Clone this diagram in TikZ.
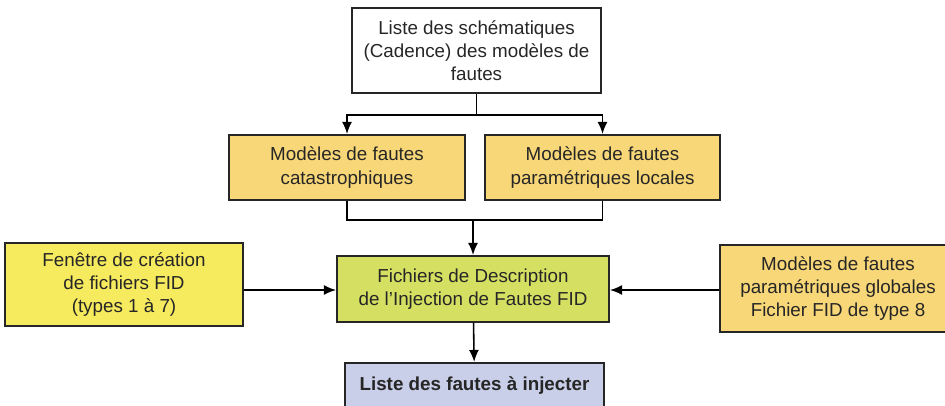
\documentclass[tikz,border=0pt]{standalone}
\usepackage{fontspec}
\setmainfont{Liberation Sans}
\usetikzlibrary{arrows.meta}
\definecolor{orangebox}{HTML}{F8D778}
\definecolor{yellowbox}{HTML}{F6EA5E}
\definecolor{greenbox}{HTML}{D5E062}
\definecolor{bluebox}{HTML}{C9CFE8}
\begin{document}
\begin{tikzpicture}[x=0.02cm,y=-0.02cm,
  >={Latex[length=2.4mm,width=2mm]},
  line width=0.9pt,
  box/.style={draw=black!85, line width=1.2pt, align=center, inner sep=0pt,
    font=\fontsize{10.7}{13.2}\selectfont, text=black!85}]
\useasboundingbox (0,0) rectangle (945,405);
\node[box, minimum width=4.98cm, minimum height=1.7cm] (schem) at (476.5,50.5) {Liste des schématiques\\(Cadence) des modèles de\\fautes};
\node[box, fill=orangebox, minimum width=4.72cm, minimum height=1.3cm] (cata) at (347,167.5) {Modèles de fautes\\catastrophiques};
\node[box, fill=orangebox, minimum width=4.7cm, minimum height=1.3cm] (loc) at (602.5,167.5) {Modèles de fautes\\paramétriques locales};
\node[box, fill=greenbox, minimum width=5.44cm, minimum height=1.32cm] (fid) at (473,289) {Fichiers de Description\\de l’Injection de Fautes FID};
\node[box, fill=yellowbox, minimum width=4.76cm, minimum height=1.66cm] (fen) at (124,284.5) {Fenêtre de création\\de fichiers FID\\(types 1 à 7)};
\node[box, fill=orangebox, minimum width=4.72cm, minimum height=1.74cm] (glob) at (838,288.5) {Modèles de fautes\\paramétriques globales\\Fichier FID de type 8};
\node[box, fill=bluebox, minimum width=5.18cm, minimum height=0.92cm, font=\fontsize{10.7}{13.2}\selectfont\bfseries] (liste) at (474.5,386) {Liste des fautes à injecter};
% top split
\coordinate (s1) at (476.5,115);
\draw (schem) -- (s1);
\draw[->] (s1) -| (cata);
\draw[->] (s1) -| (loc);
% merge
\coordinate (m1) at (473,220);
\draw (cata) |- (m1) -| (loc);
\draw[->] (m1) -- (fid);
\draw[->] (fen.east |- 0,290) -- (fid.west |- 0,290);
\draw[->] (glob.west |- 0,290) -- (fid.east |- 0,290);
\draw[->] (fid) -- (liste);
\end{tikzpicture}
\end{document}
